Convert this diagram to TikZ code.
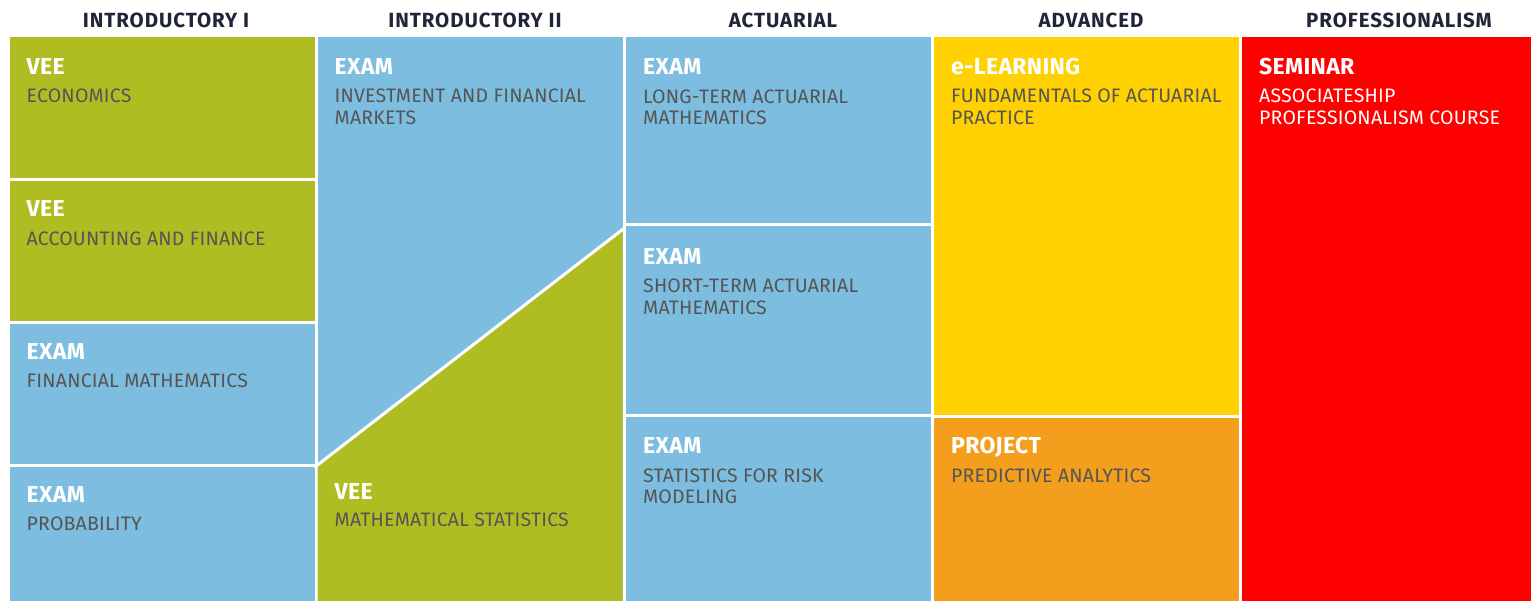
\documentclass[tikz,border=0pt]{standalone}
\usepackage{fontspec}
\setmainfont{Fira Sans}
\usetikzlibrary{positioning}

\definecolor{veegreen}{RGB}{176,189,34}
\definecolor{examblue}{RGB}{125,189,223}
\definecolor{learnyellow}{RGB}{255,209,0}
\definecolor{projorange}{RGB}{243,159,29}
\definecolor{semred}{RGB}{255,0,0}
\definecolor{subgray}{RGB}{85,85,85}
\definecolor{headnavy}{RGB}{32,38,56}

\tikzset{
  colhead/.style={font=\bfseries\fontsize{20.5}{22}\selectfont\addfontfeature{LetterSpace=4.5},
    text=headnavy, anchor=base, inner sep=0pt},
  boxtitle/.style={font=\bfseries\fontsize{23}{26}\selectfont\addfontfeature{LetterSpace=1.5},
    text=white, anchor=base west, inner sep=0pt},
  % base of a two-line text is the baseline of its last line
  boxsub/.style={font=\fontsize{19.5}{21.7}\selectfont\addfontfeature{LetterSpace=1},
    text=subgray, anchor=base west, inner sep=0pt, align=left},
}

\begin{document}
\begin{tikzpicture}[x=1pt,y=-1pt]
  \useasboundingbox (0,0) rectangle (1531,601);
  \fill[white] (0,0) rectangle (1531,601);

  % column 1
  \fill[veegreen] (9.5,37.5) rectangle (314.5,178);
  \fill[veegreen] (9.5,181) rectangle (314.5,321);
  \fill[examblue] (9.5,324) rectangle (314.5,463.5);
  \fill[examblue] (9.5,466.5) rectangle (314.5,601);
  % column 2
  \fill[examblue] (317.5,37.5) rectangle (622.5,601);
  \fill[veegreen] (317.5,465) -- (622.5,229.5) -- (622.5,601) -- (317.5,601) -- cycle;
  \draw[white, line width=3pt] (314.5,467.3) -- (625.5,227.2);
  % column 3
  \fill[examblue] (625.5,37.5) rectangle (930.5,223);
  \fill[examblue] (625.5,226) rectangle (930.5,414);
  \fill[examblue] (625.5,417) rectangle (930.5,601);
  % column 4
  \fill[learnyellow] (933.5,37.5) rectangle (1238.5,414.5);
  \fill[projorange] (933.5,417.5) rectangle (1238.5,601);
  % column 5
  \fill[semred] (1241.5,37.5) rectangle (1531,601);

  % headers
  \node[colhead] (hintro1) at (166,27.5) {INTRODUCTORY I};
  \node[colhead] (hintro2) at (475,27.5) {INTRODUCTORY II};
  \node[colhead] (hact) at (783,27.5) {ACTUARIAL};
  \node[colhead] (hadv) at (1091,27.5) {ADVANCED};
  \node[colhead] (hprof) at (1399,27.5) {PROFESSIONALISM};

  % column 1 texts
  \node[boxtitle] (t11) at (26.5,74.5) {VEE};
  \node[boxsub] (s11) at (26.5,103) {ECONOMICS};
  \node[boxtitle] (t12) at (26.5,217) {VEE};
  \node[boxsub] (s12) at (26.5,245.5) {ACCOUNTING AND FINANCE};
  \node[boxtitle] (t13) at (26.5,359.5) {EXAM};
  \node[boxsub] (s13) at (26.5,388) {FINANCIAL MATHEMATICS};
  \node[boxtitle] (t14) at (26.5,502) {EXAM};
  \node[boxsub] (s14) at (26.5,530.5) {PROBABILITY};

  % column 2 texts
  \node[boxtitle] (t21) at (334.5,74.5) {EXAM};
  \node[boxsub] (s21) at (334.5,124.7) {INVESTMENT AND FINANCIAL\\MARKETS};
  \node[boxtitle] (t22) at (334.5,499.3) {VEE};
  \node[boxsub] (s22) at (334.5,526.7) {MATHEMATICAL STATISTICS};

  % column 3 texts
  \node[boxtitle] (t31) at (643,74.5) {EXAM};
  \node[boxsub] (s31) at (643,125) {LONG-TERM ACTUARIAL\\MATHEMATICS};
  \node[boxtitle] (t32) at (643,264.5) {EXAM};
  \node[boxsub] (s32) at (643,314.7) {SHORT-TERM ACTUARIAL\\MATHEMATICS};
  \node[boxtitle] (t33) at (643,453.5) {EXAM};
  \node[boxsub] (s33) at (643,503.7) {STATISTICS FOR RISK\\MODELING};

  % column 4 texts
  \node[boxtitle] (t41) at (951,74.5) {e-LEARNING};
  \node[boxsub] (s41) at (951,124.7) {FUNDAMENTALS OF ACTUARIAL\\PRACTICE};
  \node[boxtitle] (t42) at (951,453.5) {PROJECT};
  \node[boxsub] (s42) at (951,482) {PREDICTIVE ANALYTICS};

  % column 5 texts
  \node[boxtitle] (t51) at (1259,74.5) {SEMINAR};
  \node[boxsub, text=white] (s51) at (1259,124.7) {ASSOCIATESHIP\\PROFESSIONALISM COURSE};
\end{tikzpicture}
\end{document}
